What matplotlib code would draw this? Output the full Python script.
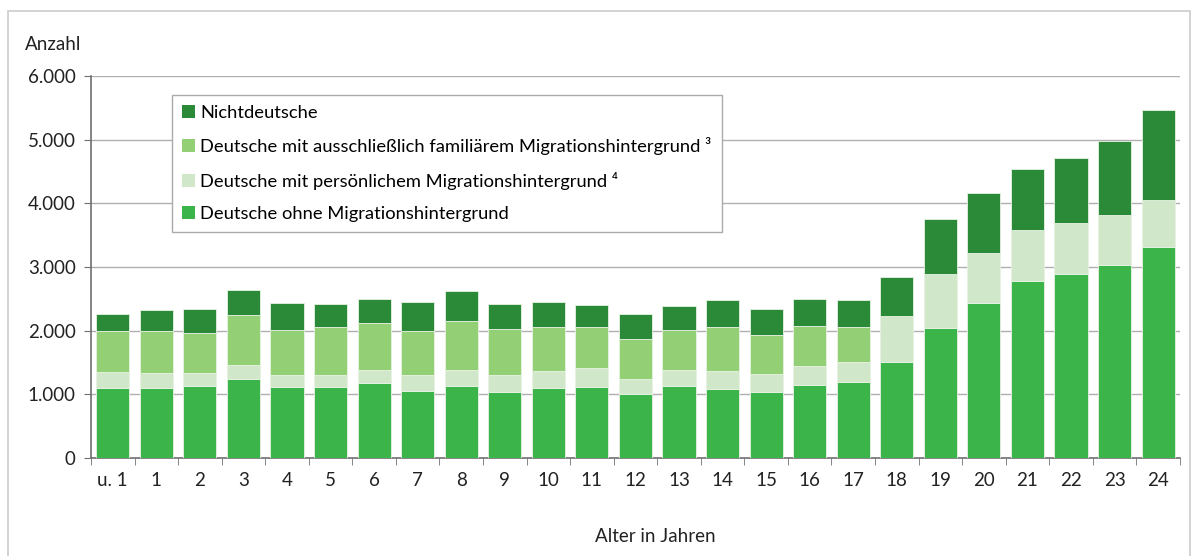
import matplotlib.pyplot as plt
import numpy as np
from matplotlib.patches import Rectangle

plt.rcParams['font.family'] = ['Lato', 'DejaVu Sans']

ages = ["u. 1"] + [str(i) for i in range(1, 25)]

ohne = [1100, 1100, 1127, 1242, 1112, 1112, 1174, 1049, 1127, 1033, 1101, 1116, 1002,
        1127, 1091, 1044, 1143, 1195, 1500, 2039, 2432, 2774, 2893, 3035, 3313]
persoenlich = [258, 231, 205, 216, 188, 199, 205, 247, 257, 263, 267, 290, 240,
               257, 283, 272, 304, 305, 723, 849, 782, 806, 802, 786, 739]
familiaer = [640, 671, 629, 781, 713, 749, 744, 691, 765, 728, 687, 644, 629,
             624, 676, 618, 629, 550, 0, 0, 0, 0, 0, 0, 0]
nichtdeutsche = [263, 330, 377, 403, 419, 361, 367, 456, 467, 393, 398, 356, 393,
                 382, 425, 399, 414, 425, 623, 870, 943, 955, 1013, 1163, 1410]

c_ohne = "#3bb44a"
c_pers = "#d0e7c9"
c_fam = "#93cf75"
c_nicht = "#2b8a38"

fig = plt.figure(figsize=(11.93, 5.56), dpi=100)
ax = fig.add_axes([0.0763, 0.1763, 0.9127, 0.687])

# Rahmen um die Grafik
fig.patches.append(Rectangle((8 / 1193, -0.1), 1182 / 1193, 1.08, transform=fig.transFigure,
                             fill=False, edgecolor="#cccccc", linewidth=1.2))

x = np.arange(len(ages))
w = 0.76
ohne = np.array(ohne)
persoenlich = np.array(persoenlich)
familiaer = np.array(familiaer)
nichtdeutsche = np.array(nichtdeutsche)

kw = dict(width=w, edgecolor="#e8f2e4", linewidth=0.6, zorder=3)
b1 = ax.bar(x, ohne, color=c_ohne, **kw)
b2 = ax.bar(x, persoenlich, bottom=ohne, color=c_pers, **kw)
b3 = ax.bar(x, familiaer, bottom=ohne + persoenlich, color=c_fam, **kw)
b4 = ax.bar(x, nichtdeutsche, bottom=ohne + persoenlich + familiaer, color=c_nicht, **kw)

ax.set_xlim(-0.5, len(ages) - 0.5)
ax.set_ylim(0, 6000)
ax.set_yticks(range(0, 6001, 1000))
ax.set_yticklabels(["0", "1.000", "2.000", "3.000", "4.000", "5.000", "6.000"], fontsize=13.5)
ax.yaxis.grid(True, color="#b0b0b0", linewidth=1)
ax.set_axisbelow(True)

ax.set_xticks(x)
ax.set_xticklabels(ages, fontsize=13.5)
ax.set_xticks(np.arange(-0.5, len(ages)), minor=True)
ax.tick_params(axis="x", which="major", length=0, pad=10)
ax.tick_params(axis="x", which="minor", length=5, color="#707070")
ax.tick_params(axis="y", length=5, color="#707070", pad=6)
ax.tick_params(which="both", labelcolor="#222222")

for s in ["top", "right"]:
    ax.spines[s].set_visible(False)
ax.spines["left"].set_color("#707070")
ax.spines["bottom"].set_color("#707070")
ax.spines["left"].set_linewidth(1.2)
ax.spines["bottom"].set_linewidth(1.2)

fig.text(25 / 1193, 1 - 45 / 556, "Anzahl", fontsize=13.5, va="center", ha="left", color="#222222")
fig.text(655 / 1193, 1 - 537 / 556, "Alter in Jahren", fontsize=13.5, va="center", ha="center",
         color="#222222")

leg = ax.legend([b4, b3, b2, b1],
                ["Nichtdeutsche",
                 "Deutsche mit ausschließlich familiärem Migrationshintergrund ³",
                 "Deutsche mit persönlichem Migrationshintergrund ⁴",
                 "Deutsche ohne Migrationshintergrund"],
                loc="upper left", bbox_to_anchor=(0.0744, 0.951), borderaxespad=0,
                fontsize=13.2, handlelength=0.7, handleheight=0.7, handletextpad=0.3,
                labelspacing=0.9, borderpad=0.55, fancybox=False, framealpha=1,
                edgecolor="#aaaaaa")
leg.get_frame().set_linewidth(1.0)
leg.set_zorder(5)
for h in leg.legend_handles:
    h.set_edgecolor("none")

fig.savefig("out.png", dpi=100)
